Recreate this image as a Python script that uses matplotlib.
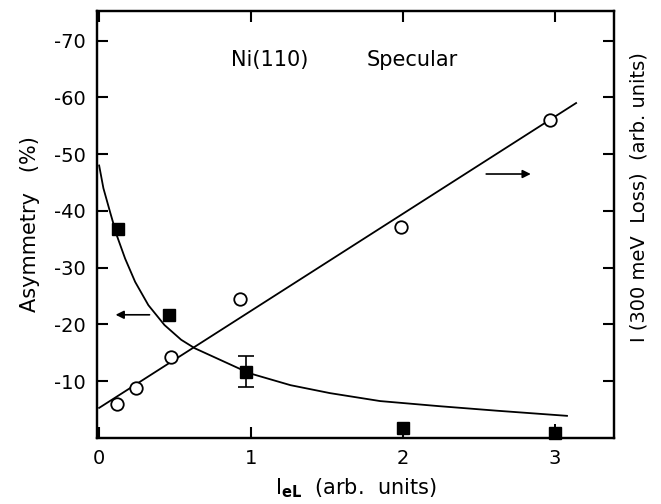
import matplotlib.pyplot as plt

# asymmetry (filled squares, left axis; plotted as magnitude, labels negative)
asym_x = [0.125, 0.46, 0.97, 2.0, 3.0]
asym_y = [36.8, 21.7, 11.7, 1.7, 0.9]
asym_err_lo = [0.0, 0.0, 2.7, 1.7, 0.0]
asym_err_hi = [0.0, 0.0, 2.7, 0.0, 1.6]

# 300 meV loss intensity (open circles, right axis)
loss_x = [0.12, 0.24, 0.47, 0.93, 1.99, 2.97]
loss_y = [6.0, 8.8, 14.3, 24.5, 37.1, 56.0]

# guide curves
curve_x = [0.0, 0.028, 0.072, 0.116, 0.171, 0.237, 0.324, 0.43, 0.54, 0.63,
           0.99, 1.26, 1.52, 1.85, 2.24, 2.62, 3.08]
curve_y = [48.0, 44.0, 39.8, 35.7, 31.6, 27.5, 23.4, 19.9, 17.3, 15.8,
           11.4, 9.3, 7.9, 6.5, 5.6, 4.8, 3.9]
line_x = [0.0, 3.14]
line_y = [5.3, 59.0]

yticks = [10, 20, 30, 40, 50, 60, 70]
ytick_labels = ['-70'.replace('70', str(v)) for v in yticks]
xticks = [0, 1, 2, 3]

fig = plt.figure(figsize=(6.61, 5.04), dpi=100)
ax = fig.add_axes([0.147, 0.131, 0.782, 0.847])
ax2 = ax.twinx()

ax.plot(curve_x, curve_y, color='black', lw=1.3)
ax.plot(asym_x, asym_y, 's', color='black', ms=8.5, clip_on=False, zorder=4)
# error bars: the middle point has caps, the two low points only a stub
ax.errorbar(asym_x[2:3], asym_y[2:3], yerr=[asym_err_lo[2:3], asym_err_hi[2:3]], fmt='none',
            ecolor='black', elinewidth=1.2, capsize=6, capthick=1.2)
ax.errorbar(asym_x[3:], asym_y[3:], yerr=[asym_err_lo[3:], asym_err_hi[3:]], fmt='none',
            ecolor='black', elinewidth=1.4, capsize=0)

ax2.plot(line_x, line_y, color='black', lw=1.3)
ax2.plot(loss_x, loss_y, 'o', mfc='white', mec='black', mew=1.3, ms=9, clip_on=False, zorder=4)

for a in (ax, ax2):
    a.set_xlim(-0.013, 3.39)
    a.set_ylim(0, 75.2)
    a.set_yticks(yticks)
    for s in a.spines.values():
        s.set_linewidth(1.6)

ax.set_yticklabels(ytick_labels, fontsize=14)
ax.set_xticks(xticks)
ax.set_xticklabels(['0', '1', '2', '3'], fontsize=14)
ax.tick_params(axis='both', direction='in', length=8, width=1.5, top=True, pad=8)
ax.tick_params(axis='x', pad=8)
ax2.tick_params(axis='y', direction='in', length=8, width=1.5, labelright=False)

ax.set_ylabel('Asymmetry   (%)', fontsize=15, labelpad=10)
ax.set_xlabel(r'I$_{\mathbf{eL}}$  (arb.  units)', fontsize=15, labelpad=6)
ax2.set_ylabel('I (300 meV  Loss)  (arb. units)', fontsize=14)
ax2.yaxis.set_label_coords(1.03, 0.565)

ax.text(1.12, 66.5, 'Ni(110)', fontsize=15, ha='center', va='center')
ax.text(2.06, 66.5, 'Specular', fontsize=15, ha='center', va='center')

# arrows pointing to the relevant axis
ax.annotate('', xy=(0.09, 21.7), xytext=(0.35, 21.7),
            arrowprops=dict(arrowstyle='-|>', color='black', lw=1.2, mutation_scale=12))
ax.annotate('', xy=(2.86, 46.5), xytext=(2.53, 46.5),
            arrowprops=dict(arrowstyle='-|>', color='black', lw=1.2, mutation_scale=12))

plt.savefig('out.png', dpi=100)
